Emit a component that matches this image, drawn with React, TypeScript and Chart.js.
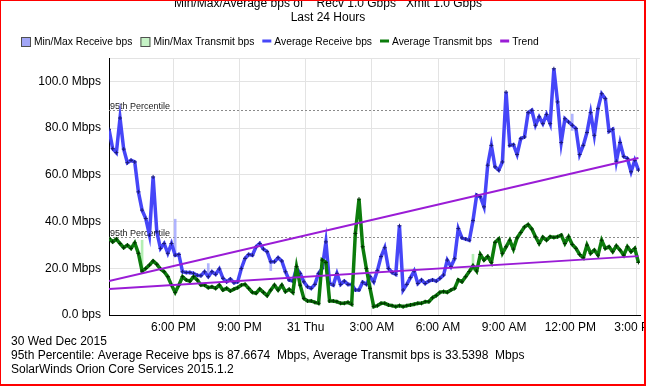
import React, { useEffect, useRef } from 'react';
import { Chart, registerables } from 'chart.js';

Chart.register(...registerables);

// ---- data ----
const START_HOUR = 15.085; // first sample, Wed 30 Dec ~3:05 PM (hours from midnight 30 Dec)
const STEP_HOURS = 1 / 6; // 10-minute samples
const X_MIN = 15.085;
const X_MAX = 39.156;

const avgReceive = [
  79.5, 71.2, 69.5, 84.3, 71, 65.2, 66.2, 65.5, 52.7, 44.9,
  41.3, 34.2, 59.1, 35.6, 28.5, 30.6, 26.4, 30.6, 25.6, 25.9,
  18.5, 18.2, 18.2, 17.8, 17, 16.8, 18.5, 16.4, 18.5, 17.4,
  19.7, 15.7, 14.2, 15.4, 13.8, 14.2, 19.9, 24.2, 25.9, 25.6,
  29.2, 30.6, 28.2, 27.1, 22.8, 22.8, 24.5, 23.1, 18.5, 15,
  14.5, 20, 17.8, 14.2, 12.1, 11.4, 13.1, 17.8, 20, 31.3,
  13.5, 12.8, 17.8, 13.1, 14.5, 13.1, 13.1, 10.7, 10.7, 14,
  13.1, 16.4, 14.2, 19, 25, 28.8, 19.9, 18.2, 17.4, 38.2,
  10.7, 13.1, 16, 18.8, 13.5, 15, 13.5, 14.5, 15, 14.5,
  15.7, 17.1, 23.5, 20.7, 24.1, 37, 33, 32.5, 32, 40.4,
  51.3, 50.6, 46.3, 64.1, 72.6, 63.4, 62, 65.5, 95.4, 72.6,
  72.9, 68.7, 75.5, 76.2, 86.6, 87.6, 81.2, 84.8, 81.9, 85.8,
  81.9, 105.4, 91.2, 73.8, 84, 82.6, 81.2, 79.8, 68.7, 72.6,
  78.1, 86.6, 76.9, 88.3, 94.7, 92.6, 78.6, 79.5, 65.8, 73.8,
  67.8, 67, 61.3, 66.2, 62,
];

const avgTransmit = [
  32.8, 31.3, 32.5, 30.6, 28.8, 29.9, 28.5, 30.9, 26.4, 18.8,
  19.9, 21.4, 23.1, 21.7, 19.7, 18.5, 16.4, 12.8, 9.7, 12.8,
  16.4, 15, 14.5, 16.4, 15, 12.8, 12.8, 11.7, 12.1, 11.4,
  12.8, 10.7, 11.4, 10.3, 11.1, 11.7, 12.8, 13.1, 11.4, 9.7,
  9.3, 11.1, 9.7, 8.3, 10.7, 12.8, 10.7, 12.8, 10, 11,
  9.7, 20.7, 12.8, 7.1, 6, 6, 5.4, 5, 23.5, 22.5,
  6, 6, 5.7, 5, 5, 5.4, 4.6, 34.9, 49.6, 29.2,
  19.9, 11.4, 3.6, 4, 5, 5, 4.3, 4, 3.6, 4,
  3.6, 4, 4.3, 4.6, 5, 5, 5.7, 5.7, 7.4, 8.3,
  9.7, 10, 9.7, 10.7, 11.4, 15, 14.2, 16.4, 18.6, 21,
  18.8, 25.9, 23.5, 25, 22.5, 31.1, 32.5, 26.4, 29.2, 32,
  28.2, 33, 35.3, 37.7, 38.7, 36.8, 33.5, 30.6, 33.3, 32,
  33.5, 33.2, 33.5, 34.2, 30.6, 33.5, 30.2, 28.5, 25.9, 24.5,
  29.9, 26.4, 27.8, 25.6, 32, 28.5, 29.2, 27.1, 29.6, 27.8,
  25.6, 29.2, 27.1, 28.5, 22.5,
];

const trendReceive = [14.5, 67.2];
const trendTransmit = [11.1, 25.2];

const recvRangeIdx = [18, 27, 44, 126];
const recvRangeMin = [25, 16, 19, 79];
const recvRangeMax = [41, 22, 24, 86];
const xmitRangeIdx = [9, 99];
const xmitRangeMin = [18.8, 19];
const xmitRangeMax = [32, 26];

const percentile95 = [87.6674, 33.5398];

const xTickHours = [18, 21, 24, 27, 30, 33, 36, 39];
const xTickLabels = ['6:00 PM', '9:00 PM', '31 Thu', '3:00 AM', '6:00 AM', '9:00 AM', '12:00 PM', '3:00 PM'];
const yTicks = [0, 20, 40, 60, 80, 100, 110];

const titleLines = ['Min/Max/Average bps of    Recv 1.0 Gbps   Xmit 1.0 Gbps', 'Last 24 Hours'];
const footerLines = [
  '30 Wed Dec 2015',
  '95th Percentile: Average Receive bps is 87.6674  Mbps, Average Transmit bps is 33.5398  Mbps',
  'SolarWinds Orion Core Services 2015.1.2',
];

const FONT = '"Liberation Sans", Arial, sans-serif';

const sampleHour = (k: number) => START_HOUR + k * STEP_HOURS;

const decorPlugin = {
  id: 'decor',
  beforeDatasetsDraw(chart: any) {
    const { ctx, chartArea, scales } = chart;
    const y = scales.y;
    ctx.save();
    percentile95.forEach((v) => {
      const py = Math.round(y.getPixelForValue(v)) + 0.5;
      ctx.strokeStyle = '#8a8a8a';
      ctx.lineWidth = 1;
      ctx.setLineDash([2, 2]);
      ctx.beginPath();
      ctx.moveTo(chartArea.left, py);
      ctx.lineTo(chartArea.right, py);
      ctx.stroke();
      ctx.setLineDash([]);
      ctx.fillStyle = '#222';
      ctx.font = `9px ${FONT}`;
      ctx.textAlign = 'left';
      ctx.textBaseline = 'alphabetic';
      ctx.fillText('95th Percentile', chartArea.left + 1, py - 2);
    });
    ctx.restore();
  },
  afterDraw(chart: any) {
    const { ctx } = chart;
    const ds = chart.data.datasets;
    ctx.save();
    // title
    ctx.fillStyle = '#000';
    ctx.font = `12px ${FONT}`;
    ctx.textAlign = 'center';
    ctx.textBaseline = 'alphabetic';
    ctx.fillText(titleLines[0], 328, 6.5);
    ctx.fillText(titleLines[1], 328, 20.5);

    // legend
    ctx.font = `10.3px ${FONT}`;
    ctx.textAlign = 'left';
    let x = 21;
    const items = [
      { d: ds[0], kind: 'box' },
      { d: ds[1], kind: 'box' },
      { d: ds[2], kind: 'line' },
      { d: ds[3], kind: 'line' },
      { d: ds[4], kind: 'line' },
    ];
    items.forEach((it) => {
      if (it.kind === 'box') {
        ctx.fillStyle = it.d.legendFill;
        ctx.fillRect(x, 37, 10, 10);
        ctx.strokeStyle = '#505050';
        ctx.lineWidth = 1;
        ctx.strokeRect(x + 0.5, 37.5, 9, 9);
        x += 13;
      } else {
        ctx.fillStyle = it.d.borderColor;
        ctx.fillRect(x, 39.5, 9, 3);
        x += 12;
      }
      ctx.fillStyle = '#000';
      ctx.fillText(it.d.label, x, 44.5);
      x += ctx.measureText(it.d.label).width + 8;
    });

    // footer
    ctx.font = `12px ${FONT}`;
    ctx.fillStyle = '#000';
    footerLines.forEach((t, i) => ctx.fillText(t, 11, 344.5 + i * 14.1));

    // frame
    ctx.fillStyle = '#ff0000';
    ctx.fillRect(0, 0, 646, 1);
    ctx.fillRect(0, 0, 1, 386);
    ctx.fillRect(644, 0, 2, 386);
    ctx.fillRect(0, 384, 646, 2);
    ctx.restore();
  },
};

export default function App() {
  const ref = useRef<HTMLCanvasElement | null>(null);

  useEffect(() => {
    document.body.style.margin = '0';
    if (!ref.current) return;
    const lastHour = sampleHour(avgReceive.length - 1);
    const chart = new Chart(ref.current, {
      type: 'line',
      data: {
        datasets: [
          {
            type: 'bar',
            label: 'Min/Max Receive bps',
            data: recvRangeIdx.map((k, i) => ({ x: sampleHour(k), y: [recvRangeMin[i], recvRangeMax[i]] })),
            backgroundColor: 'rgba(150,155,255,0.75)',
            legendFill: '#a2a6f6',
            barThickness: 2,
            grouped: false,
            order: 5,
          } as any,
          {
            type: 'bar',
            label: 'Min/Max Transmit bps',
            data: xmitRangeIdx.map((k, i) => ({ x: sampleHour(k), y: [xmitRangeMin[i], xmitRangeMax[i]] })),
            backgroundColor: 'rgba(160,235,160,0.8)',
            legendFill: '#c6f3c6',
            barThickness: 2,
            grouped: false,
            order: 5,
          } as any,
          {
            label: 'Average Receive bps',
            data: avgReceive.map((v, k) => ({ x: sampleHour(k), y: v })),
            borderColor: '#4646f8',
            borderWidth: 3.5,
            pointStyle: 'cross',
            pointRadius: 2,
            pointBorderColor: '#1a1a7a',
            pointBorderWidth: 1,
            tension: 0,
            order: 3,
          },
          {
            label: 'Average Transmit bps',
            data: avgTransmit.map((v, k) => ({ x: sampleHour(k), y: v })),
            borderColor: '#0c7c0c',
            borderWidth: 3.5,
            pointStyle: 'cross',
            pointRadius: 2,
            pointBorderColor: '#003300',
            pointBorderWidth: 1,
            tension: 0,
            order: 2,
          },
          {
            label: 'Trend',
            data: [
              { x: sampleHour(0), y: trendReceive[0] },
              { x: lastHour, y: trendReceive[1] },
            ],
            borderColor: '#9a1cd6',
            borderWidth: 2,
            pointRadius: 0,
            order: 1,
          },
          {
            label: 'Trend Transmit',
            data: [
              { x: sampleHour(0), y: trendTransmit[0] },
              { x: lastHour, y: trendTransmit[1] },
            ],
            borderColor: '#9a1cd6',
            borderWidth: 2,
            pointRadius: 0,
            order: 1,
          },
        ],
      },
      options: {
        responsive: false,
        animation: false,
        events: [],
        layout: { padding: { top: 58, left: 0, right: 6, bottom: 0 } },
        plugins: {
          legend: { display: false },
          title: { display: false },
          tooltip: { enabled: false },
        },
        scales: {
          x: {
            type: 'linear',
            min: X_MIN,
            max: X_MAX,
            offset: false,
            grid: { color: '#e3e3e3', drawTicks: false, offset: false },
            border: { color: '#000', width: 1 },
            ticks: {
              autoSkip: false,
              maxRotation: 0,
              padding: 5,
              color: '#000',
              font: { family: FONT, size: 12 },
              callback: (v: any) => {
                const i = xTickHours.indexOf(Number(v));
                return i >= 0 ? xTickLabels[i] : '';
              },
            },
            afterBuildTicks: (s: any) => {
              s.ticks = xTickHours.map((v) => ({ value: v }));
            },
            afterFit: (s: any) => {
              s.height = 71;
              s.paddingLeft = 0;
              s.paddingRight = 0;
            },
          },
          y: {
            type: 'linear',
            min: 0,
            max: 110,
            grid: { color: '#e3e3e3', drawTicks: false },
            border: { color: '#000', width: 1 },
            ticks: {
              padding: 8,
              color: '#000',
              font: { family: FONT, size: 12 },
              callback: (v: any) => {
                const n = Number(v);
                if (n === 110) return '';
                return n === 0 ? '0.0 bps' : n.toFixed(1) + ' Mbps';
              },
            },
            afterBuildTicks: (s: any) => {
              s.ticks = yTicks.map((v) => ({ value: v }));
            },
            afterFit: (s: any) => {
              s.width = 109;
              s.paddingTop = 0;
              s.paddingBottom = 0;
            },
          },
        },
      } as any,
      plugins: [decorPlugin],
    });
    return () => chart.destroy();
  }, []);

  return (
    <div style={{ position: 'relative', width: 646, height: 386, background: '#fff' }}>
      <canvas ref={ref} width={646} height={386} style={{ display: 'block' }} />
    </div>
  );
}
